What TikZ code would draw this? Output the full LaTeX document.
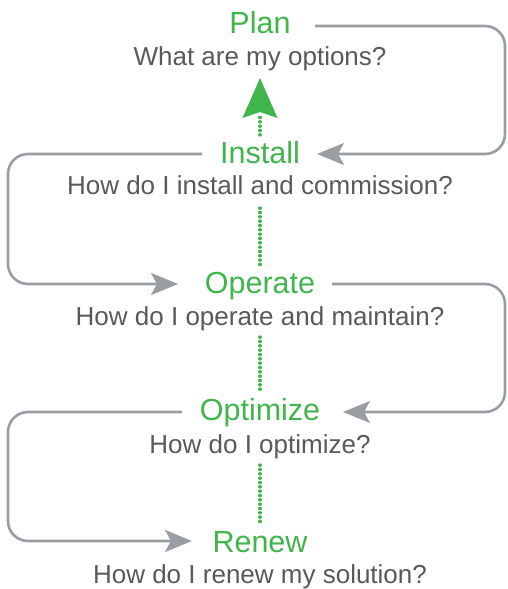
\documentclass[tikz,border=0pt]{standalone}
\usepackage{fontspec}
\setmainfont{Liberation Sans}
\usetikzlibrary{arrows.meta,calc}
\definecolor{stepgreen}{RGB}{64,181,75}
\definecolor{linegray}{RGB}{152,158,164}
\definecolor{textgray}{RGB}{88,89,92}
\begin{document}
\begin{tikzpicture}[x=1pt,y=1pt,
  title/.style={anchor=base,inner sep=0pt,text=stepgreen,font=\fontsize{30.5}{32}\selectfont},
  question/.style={anchor=base,inner sep=0pt,text=textgray,font=\fontsize{26}{28}\selectfont},
  conn/.style={draw=linegray,line width=2.6pt,rounded corners=20pt,-{Stealth[length=27pt,width=22pt,inset=6pt]}},
  dots/.style={draw=stepgreen,line width=3.3pt,line cap=round,dash pattern=on 0.3pt off 4.03pt},
]
\useasboundingbox (0,0) rectangle (507,-589);
\coordinate (R) at (505,0);
\coordinate (L) at (8,0);

\node[title] (plan) at (260,-34) {Plan};
\node[question] (planq) at (260,-65) {What are my options?};
\node[title] (install) at (260,-163) {Install};
\node[question] (installq) at (260,-194) {How do I install and commission?};
\node[title] (operate) at (260,-293) {Operate};
\node[question] (operateq) at (260,-325) {How do I operate and maintain?};
\node[title] (optimize) at (260,-420) {Optimize};
\node[question] (optimizeq) at (260,-453) {How do I optimize?};
\node[title] (renew) at (260,-552) {Renew};
\node[question] (renewq) at (260,-583) {How do I renew my solution?};

% connector ends
\coordinate (planR) at ($(plan.base)+(55,8)$);
\coordinate (installR) at ($(install.base)+(57,9)$);
\coordinate (installL) at ($(install.base)+(-58,9)$);
\coordinate (operateL) at ($(operate.base)+(-82,9)$);
\coordinate (operateR) at ($(operate.base)+(72,9)$);
\coordinate (optimizeR) at ($(optimize.base)+(83,8)$);
\coordinate (optimizeL) at ($(optimize.base)+(-78,8)$);
\coordinate (renewL) at ($(renew.base)+(-68,11)$);

% gray loops
\draw[conn] (planR) -- (planR -| R) -- (installR -| R) -- (installR);
\draw[conn] (installL) -- (installL -| L) -- (operateL -| L) -- (operateL);
\draw[conn] (operateR) -- (operateR -| R) -- (optimizeR -| R) -- (optimizeR);
\draw[conn] (optimizeL) -- (optimizeL -| L) -- (renewL -| L) -- (renewL);

% green dotted links
\coordinate (upA) at ($(install.base)+(0,28)$);
\coordinate (upB) at ($(planq.base)+(0,-50)$);
\draw[dots] (upA) -- (upB);
\fill[stepgreen] ($(planq.base)+(0,-13)$) -- ($(planq.base)+(17.5,-53)$) -- ($(planq.base)+(0,-47)$) -- ($(planq.base)+(-17.5,-53)$) -- cycle;
\coordinate (d1a) at ($(installq.base)+(0,-14)$);
\coordinate (d1b) at ($(operate.base)+(0,28)$);
\draw[dots] (d1a) -- (d1b);
\coordinate (d2a) at ($(operateq.base)+(0,-12)$);
\coordinate (d2b) at ($(optimize.base)+(0,28)$);
\draw[dots] (d2a) -- (d2b);
\coordinate (d3a) at ($(optimizeq.base)+(0,-12)$);
\coordinate (d3b) at ($(renew.base)+(0,29)$);
\draw[dots] (d3a) -- (d3b);
\end{tikzpicture}
\end{document}
